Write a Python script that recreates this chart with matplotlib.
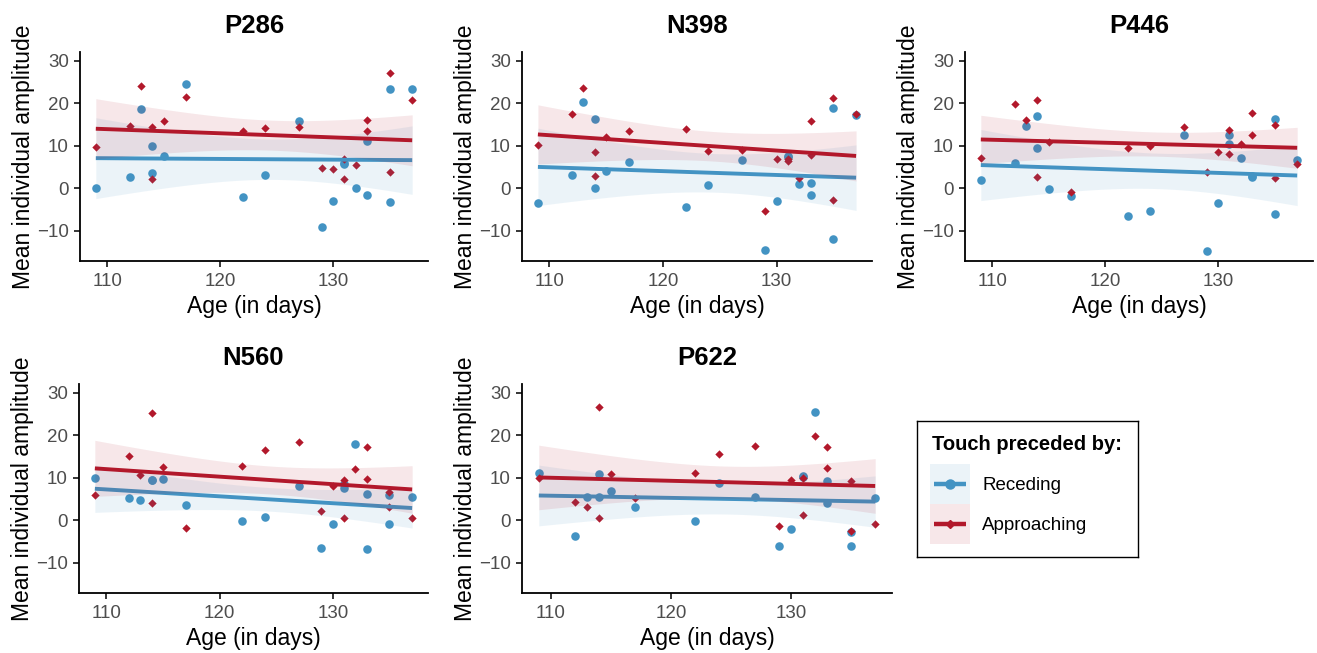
import numpy as np
import matplotlib.pyplot as plt
from matplotlib.patches import Rectangle

plt.rcParams["font.family"] = ["Liberation Sans", "DejaVu Sans"]

## data
ages = [109, 112, 113, 114, 114, 115, 117, 122, 124, 127,
        129, 130, 131, 131, 132, 133, 133, 135, 135, 137]

components = ["P286", "N398", "P446", "N560", "P622"]
groups = ["Receding", "Approaching"]

p286_receding = [0.2, 2.7, 18.7, 10.0, 3.5, 7.7, 24.6, -2.0, 3.2, 15.8,
                 -9.0, -3.0, 5.7, 5.9, 0.1, 11.1, -1.5, 23.3, -3.3, 23.3]
p286_approaching = [9.7, 14.7, 24.1, 14.5, 2.2, 15.9, 21.5, 13.6, 14.2, 14.4,
                    4.9, 4.6, 6.9, 2.3, 5.5, 16.2, 13.4, 27.1, 3.9, 20.7]

n398_receding = [-3.5, 3.2, 20.3, 16.4, 0.0, 4.2, 6.2, -4.5, 0.7, 6.6,
                 -14.4, -2.9, 7.7, 7.5, 1.1, 1.2, -1.5, 19.0, -11.9, 17.3]
n398_approaching = [10.1, 17.4, 23.7, 8.6, 2.8, 12.0, 13.6, 13.9, 8.9, 9.0,
                    -5.3, 6.9, 6.5, 7.0, 2.4, 15.8, 7.8, 21.3, -2.7, 17.6]

p446_receding = [1.9, 5.9, 14.6, 17.1, 9.5, -0.2, -1.7, -6.5, -5.3, 12.5,
                 -14.7, -3.5, 12.6, 10.4, 7.1, 2.7, 2.9, 16.3, -6.0, 6.6]
p446_approaching = [7.2, 19.8, 16.1, 20.7, 2.6, 10.8, -0.8, 9.4, 10.0, 14.4,
                    3.8, 8.6, 13.8, 8.2, 10.4, 17.7, 12.6, 14.8, 2.4, 5.8]

n560_receding = [10.0, 5.2, 4.9, 9.4, 9.6, 9.7, 3.5, -0.2, 0.9, 8.0,
                 -6.4, -0.9, 7.6, 8.6, 18.0, 6.2, -6.8, 6.0, -0.8, 5.6]
n560_approaching = [5.9, 15.1, 10.7, 25.2, 4.0, 12.5, -1.9, 12.9, 16.5, 18.5,
                    2.2, 8.2, 9.6, 0.5, 12.1, 17.2, 9.8, 6.7, 3.1, 0.5]

p622_receding = [11.2, -3.6, 5.4, 10.8, 5.4, 6.9, 3.2, -0.2, 8.8, 5.4,
                 -6.1, -2.0, 10.4, 10.1, 25.5, 9.2, 4.1, -2.7, -6.0, 5.2]
p622_approaching = [10.0, 4.4, 3.1, 26.7, 0.5, 11.0, 5.2, 11.1, 15.6, 17.5,
                    -1.4, 9.6, 10.0, 1.2, 19.8, 17.2, 12.4, 9.2, -2.6, -0.9]

receding = [p286_receding, n398_receding, p446_receding, n560_receding, p622_receding]
approaching = [p286_approaching, n398_approaching, p446_approaching,
               n560_approaching, p622_approaching]

blue = "#4393C3"
red = "#B2182B"

W, H = 1317, 653
# panel boxes in pixels: left, right, top, bottom
boxes = [(80, 428, 52, 261), (522, 872, 52, 261), (965, 1313, 52, 261),
         (79, 428, 384, 593), (522, 892, 384, 593)]


def smooth(ax, x, y, color):
    # linear fit with 95% confidence band (like geom_smooth(method="lm"))
    x = np.asarray(x, float)
    y = np.asarray(y, float)
    n = len(x)
    b, a = np.polyfit(x, y, 1)
    grid = np.linspace(x.min(), x.max(), 80)
    fit = a + b * grid
    s = np.sqrt(np.sum((y - (a + b * x)) ** 2) / (n - 2))
    se = s * np.sqrt(1 / n + (grid - x.mean()) ** 2 / np.sum((x - x.mean()) ** 2))
    t = 2.101  # t quantile, 18 df
    ax.fill_between(grid, fit - t * se, fit + t * se, color=color, alpha=0.1, lw=0, zorder=3)
    ax.plot(grid, fit, color=color, lw=2.8, zorder=3, solid_capstyle="butt")


fig = plt.figure(figsize=(W / 100, H / 100), dpi=100)

for name, rec, app, (l, r, t, b) in zip(components, receding, approaching, boxes):
    ax = fig.add_axes([l / W, 1 - b / H, (r - l) / W, (b - t) / H])
    ax.scatter(ages, rec, s=38, color=blue, marker="o", lw=0, zorder=2)
    ax.scatter(ages, app, s=18, color=red, marker="D", lw=0, zorder=2)
    smooth(ax, ages, rec, blue)
    smooth(ax, ages, app, red)

    ax.set_xlim(107.6, 138.4)
    ax.set_ylim(-17.1, 32.1)
    ax.set_xticks([110, 120, 130])
    ax.set_yticks([-10, 0, 10, 20, 30])
    ax.spines["top"].set_visible(False)
    ax.spines["right"].set_visible(False)
    ax.spines["left"].set_linewidth(1.3)
    ax.spines["bottom"].set_linewidth(1.3)
    ax.tick_params(length=4, width=1.1, labelsize=13.5, labelcolor="#4D4D4D")
    ax.tick_params(axis="x", pad=5)
    ax.tick_params(axis="y", pad=4)

    ax.set_title(name, fontsize=18.5, fontweight="bold", pad=13.5)
    ax.set_xlabel("Age (in days)", fontsize=16.5, labelpad=3)
    ax.set_ylabel("Mean individual amplitude", fontsize=16.5, labelpad=1.5)

## legend, drawn by hand in its own axes (pixel units)
lg = fig.add_axes([917 / W, 1 - 557 / H, 221 / W, 136 / H])
lg.set_xlim(0, 221)
lg.set_ylim(136, 0)
lg.set_xticks([])
lg.set_yticks([])
for sp in lg.spines.values():
    sp.set_linewidth(1.0)
lg.text(15, 24, "Touch preceded by:", fontsize=14.5, fontweight="bold", va="center")
for i, (label, color, marker, ms) in enumerate(zip(groups, [blue, red], ["o", "D"], [6.5, 4])):
    top = 43 + 40 * i
    lg.add_patch(Rectangle((13, top), 40, 40, facecolor=color, alpha=0.1, lw=0))
    lg.plot([17, 49], [top + 20, top + 20], color=color, lw=3.2, solid_capstyle="butt")
    lg.plot([33], [top + 20], color=color, marker=marker, ms=ms, lw=0)
    lg.text(65, top + 21, label, fontsize=13.5, va="center")

plt.savefig("out.png", dpi=100)
